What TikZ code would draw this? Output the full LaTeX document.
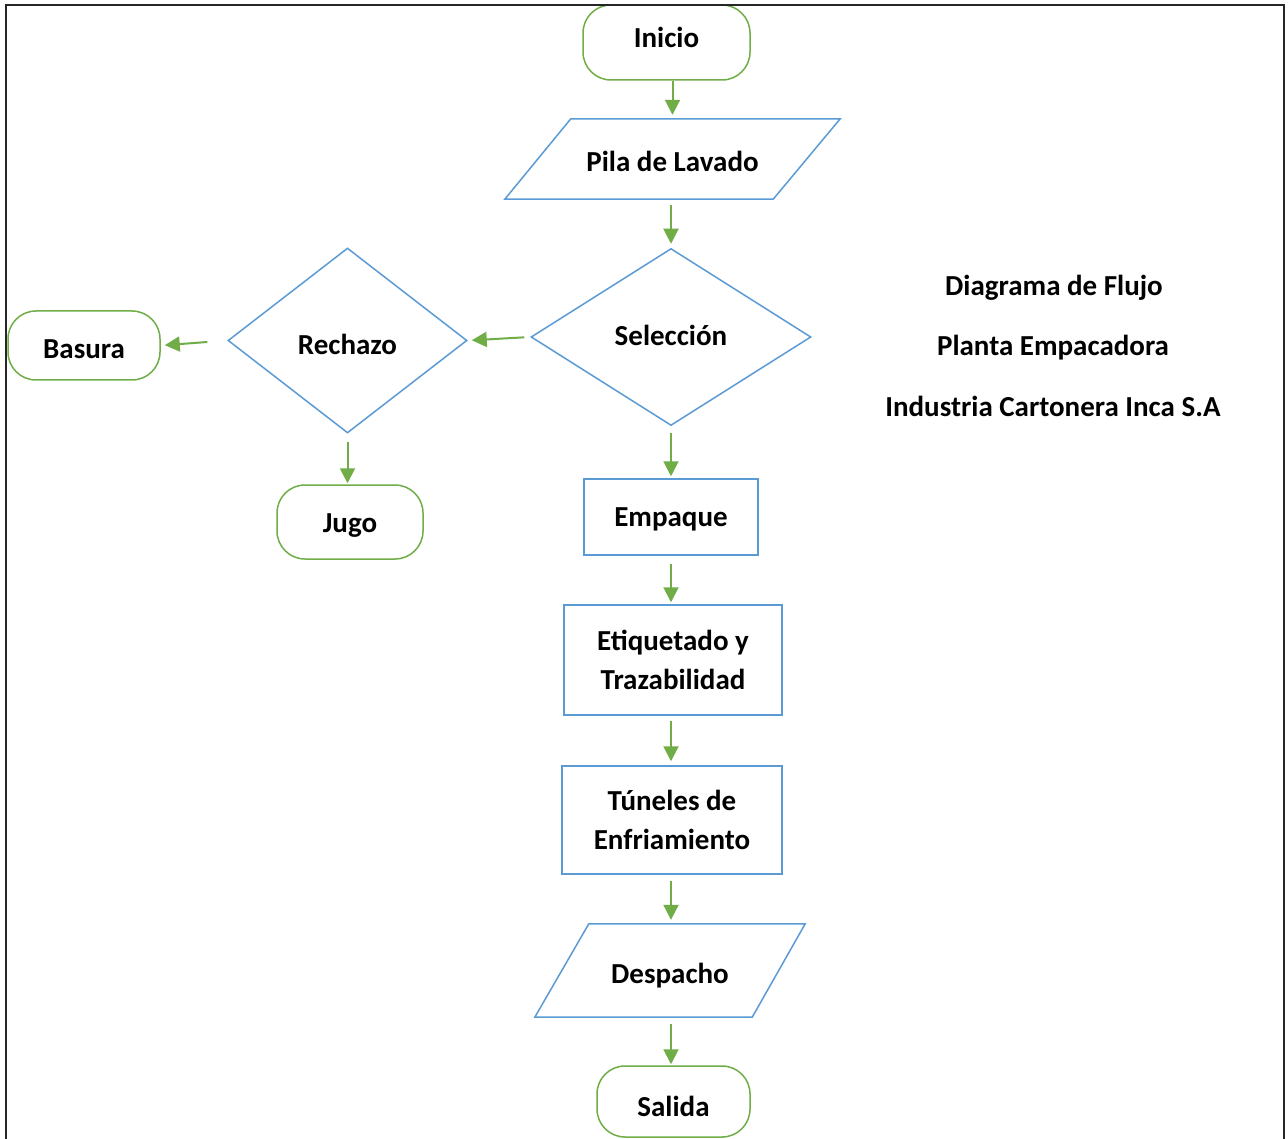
\documentclass[tikz,border=0pt]{standalone}
\usepackage{fontspec}
\setmainfont{Carlito}
\usetikzlibrary{shapes.geometric,arrows.meta}
\definecolor{fblue}{RGB}{91,155,213}
\definecolor{fgreen}{RGB}{112,173,71}
\newcommand{\shiftbox}[2]{\raisebox{#1pt}[\height][\depth]{#2}}
\begin{document}
\begin{tikzpicture}[x=1pt,y=-1pt,
  every node/.style={font=\fontsize{29}{39}\selectfont\bfseries, align=center, inner sep=0pt},
  term/.style={draw=fgreen, line width=1.5pt, rounded corners=28pt},
  procbox/.style={rectangle, draw=fblue, line width=1.5pt},
  decision/.style={diamond, draw=fblue, line width=1.5pt},
  iobox/.style={rectangle},
  ioline/.style={draw=fblue, line width=1.5pt, line join=miter},
  flow/.style={draw=fgreen, line width=2pt, -{Triangle[length=15pt,width=15pt]}, shorten >=4pt, shorten <=6pt},
  title/.style={font=\fontsize{29}{39}\selectfont\bfseries}
]
\useasboundingbox (0,0) rectangle (1288,1139);
\fill[white] (0,0) rectangle (1288,1139);

% shapes
\node[term, minimum width=167, minimum height=75] (inicio) at (666.5,42.5) {\shiftbox{5}{Inicio}};
\node[iobox, minimum width=335, minimum height=80] (pila) at (672.5,159) {\shiftbox{-2}{Pila de Lavado}};
\draw[ioline] ([xshift=66pt]pila.north west) -- (pila.north east) -- ([xshift=-67pt]pila.south east) -- (pila.south west) -- cycle;
\node[decision, minimum width=280, minimum height=177] (sel) at (671,337) {\shiftbox{2}{Selecci\'on}};
\node[decision, minimum width=239, minimum height=185] (rech) at (347.5,340.5) {\shiftbox{-4}{Rechazo}};
\node[term, minimum width=152, minimum height=69] (basura) at (84,345.5) {\shiftbox{-4}{Basura}};
\node[term, minimum width=146, minimum height=74] (jugo) at (350,522) {\shiftbox{-4}{Jugo}};
\node[procbox, minimum width=174, minimum height=76] (empaque) at (671,517) {\shiftbox{-2}{Empaque}};
\node[procbox, minimum width=218, minimum height=110] (etiq) at (673,660) {Etiquetado y\\Trazabilidad};
\node[procbox, minimum width=220, minimum height=108] (tunel) at (672,820) {T\'uneles de\\Enfriamiento};
\node[iobox, minimum width=270, minimum height=93] (desp) at (670,970.5) {\shiftbox{-5}{Despacho}};
\draw[ioline] ([xshift=54pt]desp.north west) -- (desp.north east) -- ([xshift=-53pt]desp.south east) -- (desp.south west) -- cycle;
\node[term, minimum width=153, minimum height=71] (salida) at (673.5,1101.5) {\shiftbox{-5}{Salida}};

% title texts
\node[title] (t1) at (1054,288) {Diagrama de Flujo};
\node[title] (t2) at (1053,348) {Planta Empacadora};
\node[title] (t3) at (1053,406) {Industria Cartonera Inca S.A};

% connectors
\draw[flow, shorten <=0pt] (pila.north |- inicio.south) -- (pila.north);
\draw[flow] (pila.south -| sel.north) -- (sel.north);
\draw[flow] (sel.west) -- (rech.east);
\draw[flow, shorten <=20pt] (rech.west) -- (basura.east);
\draw[flow, shorten <=8pt, shorten >=1pt] (rech.south) -- (jugo.north -| rech.south);
\draw[flow, shorten <=7pt, shorten >=2pt] (sel.south) -- (empaque.north -| sel.south);
\draw[flow, shorten <=8pt, shorten >=2pt] (empaque.south -| sel.south) -- (etiq.north -| sel.south);
\draw[flow, shorten <=5pt, shorten >=4pt] (etiq.south -| sel.south) -- (tunel.north -| sel.south);
\draw[flow, shorten <=6pt, shorten >=4pt] (tunel.south -| sel.south) -- (desp.north -| sel.south);
\draw[flow, shorten <=7pt, shorten >=1pt] (desp.south -| sel.south) -- (salida.north -| sel.south);

% frame
\draw[black!85, line width=2pt] (6,1139) -- (6,5) -- (1284,5) -- (1284,1139);
\end{tikzpicture}
\end{document}
